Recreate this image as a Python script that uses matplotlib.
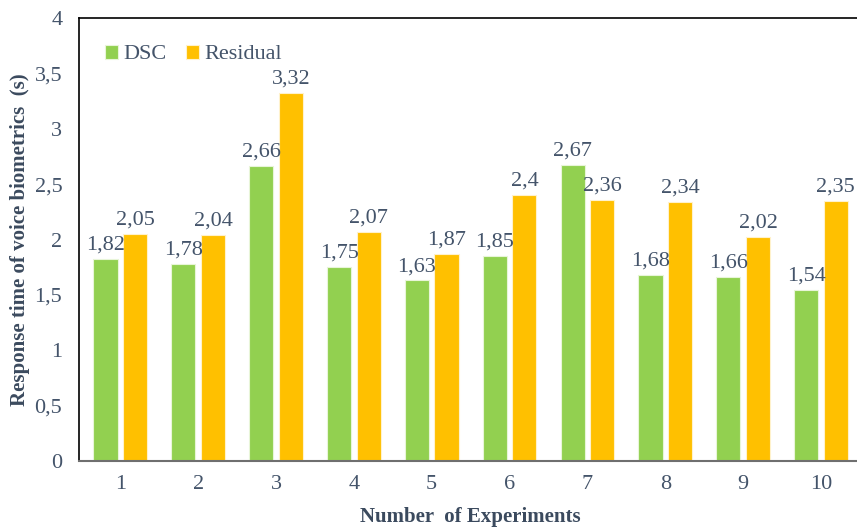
import numpy as np
import matplotlib.pyplot as plt

plt.rcParams['font.family'] = ['Liberation Serif', 'DejaVu Serif']

experiments = ['1', '2', '3', '4', '5', '6', '7', '8', '9', '10']
dsc = [1.82, 1.78, 2.66, 1.75, 1.63, 1.85, 2.67, 1.68, 1.66, 1.54]
residual = [2.05, 2.04, 3.32, 2.07, 1.87, 2.4, 2.36, 2.34, 2.02, 2.35]

txt_col = '#44546A'
x = np.arange(1, len(experiments) + 1)
w = 0.31
off = 0.19

fig = plt.figure(figsize=(8.57, 5.27), dpi=100)
ax = fig.add_axes([0.0922, 0.1252, 0.914, 0.8406])

b1 = ax.bar(x - off, dsc, w, color='#92D050', edgecolor='#e8f5d8', linewidth=0.8, label='DSC')
b2 = ax.bar(x + off, residual, w, color='#FFC000', edgecolor='#fff2cc', linewidth=0.8, label='Residual')

def fmt(v):
    return ('%g' % v).replace('.', ',')

for bars, vals in [(b1, dsc), (b2, residual)]:
    for b, v in zip(bars, vals):
        ax.text(b.get_x() + b.get_width() / 2, v + 0.04, fmt(v), ha='center', va='bottom',
                fontsize=16, color=txt_col)

ax.set_xlim(0.47, 10.53)
ax.set_ylim(0, 4)
ax.set_xticks(x)
ax.set_xticklabels(experiments)
yt = np.arange(0, 4.01, 0.5)
ax.set_yticks(yt)
ax.set_yticklabels([fmt(v) for v in yt])
ax.tick_params(axis='both', length=0, labelsize=16, labelcolor=txt_col)
ax.tick_params(axis='x', pad=10)
ax.tick_params(axis='y', pad=12)

for s in ['left', 'top', 'right']:
    ax.spines[s].set_color('black')
    ax.spines[s].set_linewidth(1.2)
ax.spines['bottom'].set_color('#6f6f6f')
ax.spines['bottom'].set_linewidth(1.5)

ax.set_xlabel('Number  of Experiments', fontsize=15, fontweight='bold', color='#3b4a5e')
ax.set_ylabel('Response time of voice biometrics  (s)', fontsize=15, fontweight='bold', color='#3b4a5e')
ax.xaxis.set_label_coords(0.5, -0.104)
ax.yaxis.set_label_coords(-0.063, 0.5)

ax.legend(loc='upper left', bbox_to_anchor=(0.033, 0.94), ncol=2, frameon=False, fontsize=16,
          handlelength=0.6, handleheight=0.6, handletextpad=0.25, columnspacing=0.85, labelcolor=txt_col,
          borderaxespad=0, borderpad=0)

plt.savefig('out.png', dpi=100)
